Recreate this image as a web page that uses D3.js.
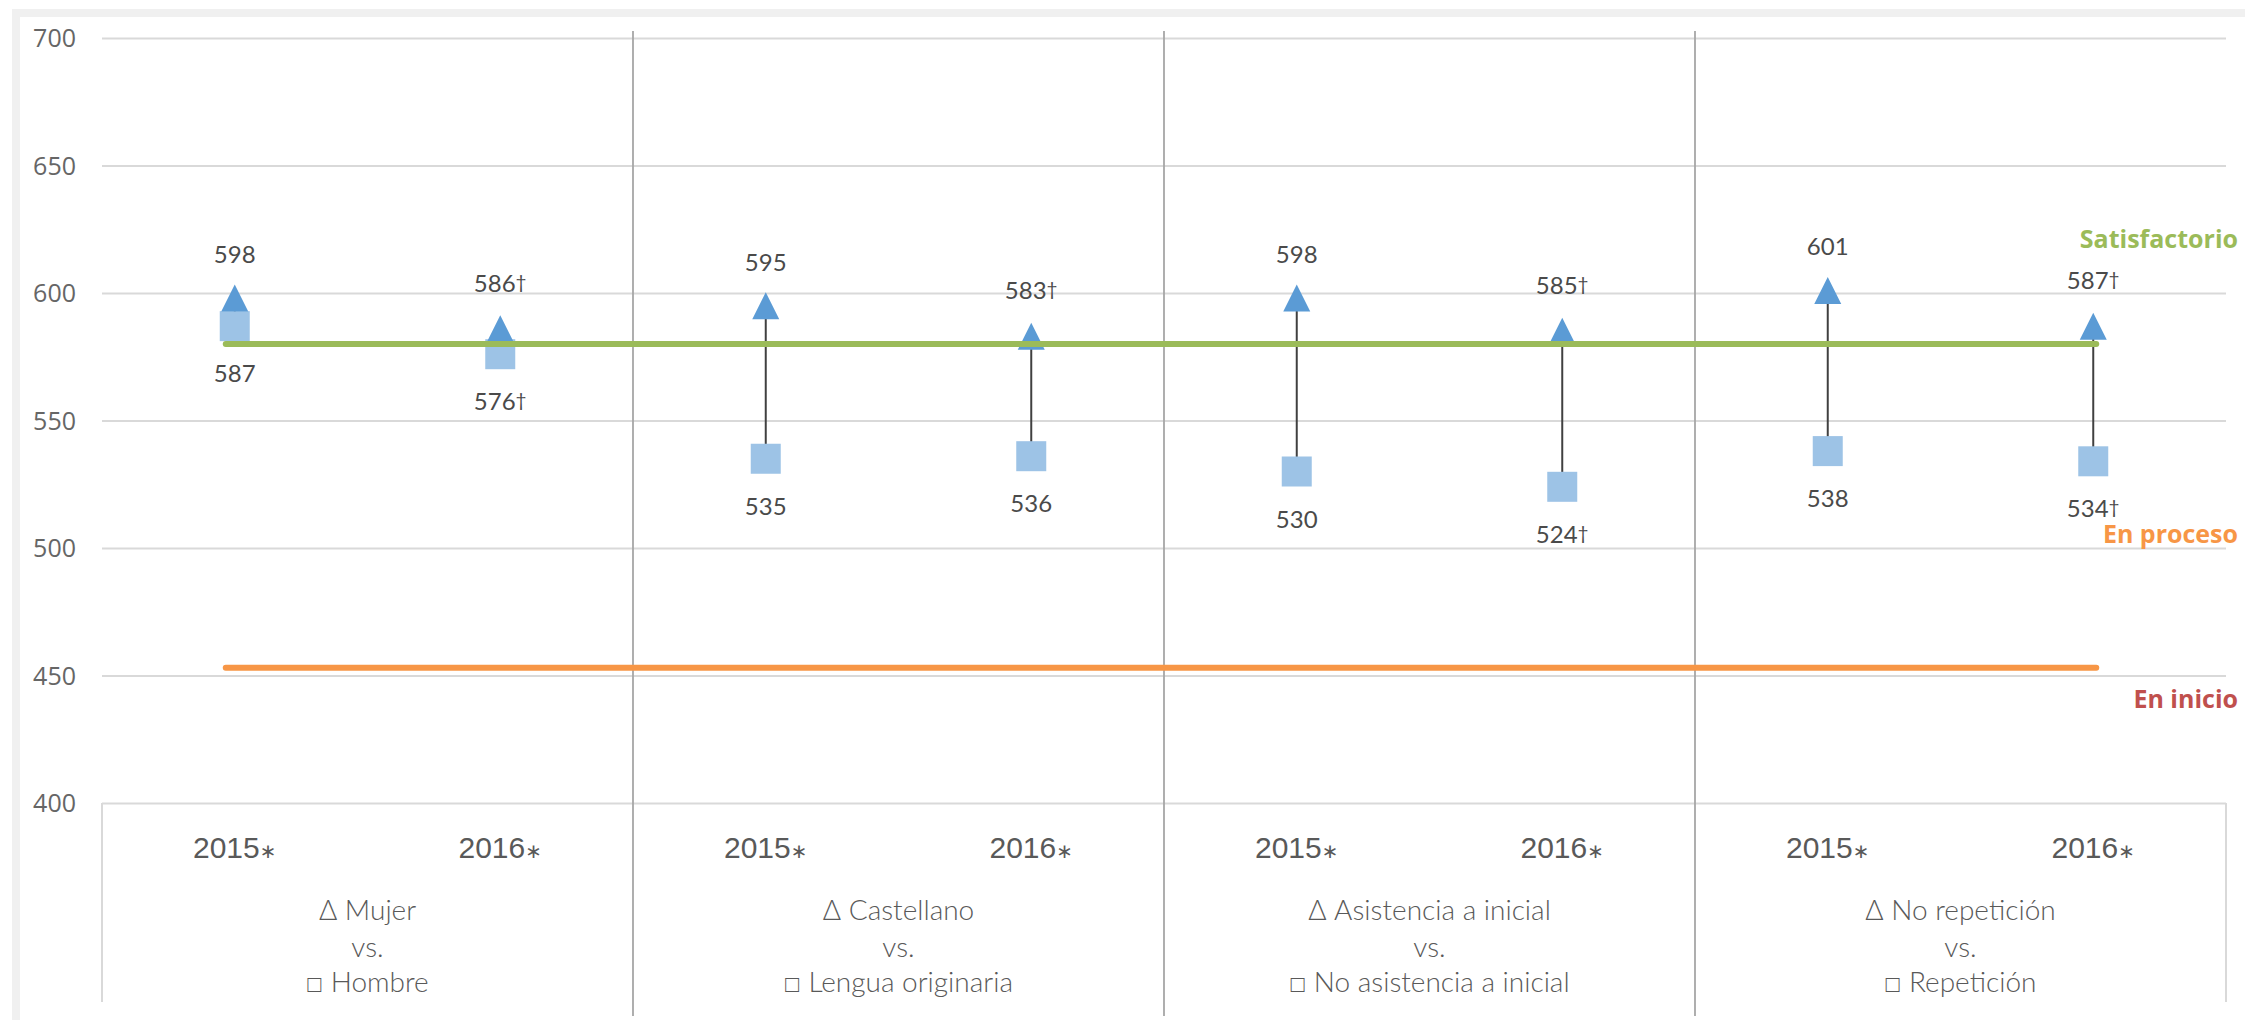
<!DOCTYPE html>
<meta charset="utf-8">
<style>
body{ margin:0; background:#fff; }
.grid line{ stroke:#d9d9d9; stroke-width:2px; }
.grid .domain{ display:none; }
.grid text{ font-family:"Open Sans",sans-serif; font-size:25px; fill:#666; }
.divider{ stroke:#a6a6a6; stroke-width:1.8px; }
.boxline{ stroke:#d9d9d9; stroke-width:2px; }
.year{ font-family:"Liberation Sans",Arial,sans-serif; font-size:30px; fill:#595959; text-anchor:middle; }
.grp{ font-family:Lato,sans-serif; font-weight:300; font-size:28px; fill:#595959; text-anchor:middle; }
.val{ font-family:Lato,sans-serif; font-size:24px; fill:#4a4a4a; text-anchor:middle; }
.level{ font-family:"Open Sans",sans-serif; font-weight:700; font-size:25px; text-anchor:end; }
</style>
<body>
<script src="https://d3js.org/d3.v7.min.js"></script>
<script>

// ---------- data ------------
var years = ["2015","2016","2015","2016","2015","2016","2015","2016"];
var groupTop = ["\u0394 Mujer","\u0394 Castellano","\u0394 Asistencia a inicial","\u0394 No repetici\u00f3n"];
var groupBottom = ["\u25a1 Hombre","\u25a1 Lengua originaria","\u25a1 No asistencia a inicial","\u25a1 Repetici\u00f3n"];

var triVals = [598,586,595,583,598,585,601,587];
var triDagger = [0,1,0,1,0,1,0,1];
var sqVals = [587,576,535,536,530,524,538,534];
var sqDagger = [0,1,0,0,0,1,0,1];

var yTicks = [400,450,500,550,600,650,700];
var satisfactorio = 580;
var enProceso = 453;

// ---------- layout ------------
var W = 2245, H = 1020;
var plotL = 102, plotR = 2226, plotT = 38, plotB = 803;

var svg = d3.select("body").append("svg").attr("width", W).attr("height", H);

// grey frame of the chart area
svg.append("rect").attr("x",12).attr("y",9).attr("width",W-12).attr("height",H-9).attr("fill","#f0f0f0");
svg.append("rect").attr("x",20).attr("y",17).attr("width",W-20).attr("height",H-17).attr("fill","#fff");

var idx = d3.range(years.length);
var x = d3.scaleBand().domain(idx).range([plotL,plotR]);
var xg = d3.scaleBand().domain(d3.range(groupTop.length)).range([plotL,plotR]);
var y = d3.scaleLinear().domain([400,700]).range([plotB,plotT]);
var cx = function(i){ return x(i) + x.bandwidth()/2; };

// gridlines + y labels
var gAxis = svg.append("g").attr("class","grid").attr("transform","translate("+plotL+",0)")
    .call(d3.axisLeft(y).tickValues(yTicks).tickSize(-(plotR-plotL)).tickPadding(26));
gAxis.selectAll("text").attr("dy","0.35em");

// category box
svg.append("line").attr("class","boxline").attr("x1",plotL).attr("x2",plotL).attr("y1",plotB).attr("y2",1002);
svg.append("line").attr("class","boxline").attr("x1",plotR).attr("x2",plotR).attr("y1",plotB).attr("y2",1002);

// group dividers
svg.selectAll(".divider").data(d3.range(1,groupTop.length)).enter().append("line")
    .attr("class","divider")
    .attr("x1",d => xg(d)).attr("x2",d => xg(d))
    .attr("y1",31).attr("y2",1016);

// year labels
var yl = svg.selectAll(".year").data(idx).enter().append("text")
    .attr("class","year").attr("x",cx).attr("y",858);
yl.append("tspan").text(d => years[d]);
yl.append("tspan").style("font-family","DejaVu Sans").style("font-size","20px").text("\u2217");

// group labels
var gl = svg.selectAll(".grp").data(d3.range(groupTop.length)).enter().append("text")
    .attr("class","grp").attr("x",d => xg(d)+xg.bandwidth()/2);
gl.append("tspan").attr("y",920).attr("x",d => xg(d)+xg.bandwidth()/2).text(d => groupTop[d]);
gl.append("tspan").attr("y",957).attr("x",d => xg(d)+xg.bandwidth()/2).text("vs.");
gl.append("tspan").attr("y",992).attr("x",d => xg(d)+xg.bandwidth()/2).text(d => groupBottom[d]);

// high-low connectors
svg.selectAll(".conn").data(idx).enter().append("line")
    .attr("x1",cx).attr("x2",cx)
    .attr("y1",d => y(triVals[d])).attr("y2",d => y(sqVals[d]))
    .attr("stroke","#404040").attr("stroke-width",2);

// squares
var s = 15;
svg.selectAll(".sq").data(idx).enter().append("rect")
    .attr("x",d => cx(d)-s).attr("y",d => y(sqVals[d])-s)
    .attr("width",2*s).attr("height",2*s).attr("fill","#9dc3e6");

// triangles
var t = 13.5;
svg.selectAll(".tri").data(idx).enter().append("path")
    .attr("transform",d => "translate("+cx(d)+","+y(triVals[d])+")")
    .attr("d","M0,"+(-t)+"L"+t+","+t+"L"+(-t)+","+t+"Z")
    .attr("fill","#5b9bd5");

// threshold lines
[[satisfactorio,"#9bbb59"],[enProceso,"#f79646"]].forEach(function(th){
    svg.append("line")
        .attr("x1",cx(0)-9).attr("x2",cx(idx.length-1)+3)
        .attr("y1",y(th[0])).attr("y2",y(th[0]))
        .attr("stroke",th[1]).attr("stroke-width",6).attr("stroke-linecap","round");
});

// value labels
var tl = svg.selectAll(".tlab").data(idx).enter().append("text")
    .attr("class","val").attr("x",cx).attr("y",d => y(triVals[d]) - (triDagger[d] ? 37 : 35));
tl.append("tspan").text(d => triVals[d]);
tl.append("tspan").attr("dy",-3).style("font-size","19px").text(d => triDagger[d] ? "\u2020" : "");

var sl = svg.selectAll(".slab").data(idx).enter().append("text")
    .attr("class","val").attr("x",cx).attr("y",d => y(sqVals[d]) + 56);
sl.append("tspan").text(d => sqVals[d]);
sl.append("tspan").attr("dy",-3).style("font-size","19px").text(d => sqDagger[d] ? "\u2020" : "");

// level names
svg.append("text").attr("class","level").attr("x",2238).attr("y",y(satisfactorio)-96)
    .attr("fill","#9bbb59").text("Satisfactorio");
svg.append("text").attr("class","level").attr("x",2238).attr("y",y(satisfactorio)+199)
    .attr("fill","#f79646").text("En proceso");
svg.append("text").attr("class","level").attr("x",2238).attr("y",y(enProceso)+40)
    .attr("fill","#c0504d").text("En inicio");

</script>
</body>
</html>
